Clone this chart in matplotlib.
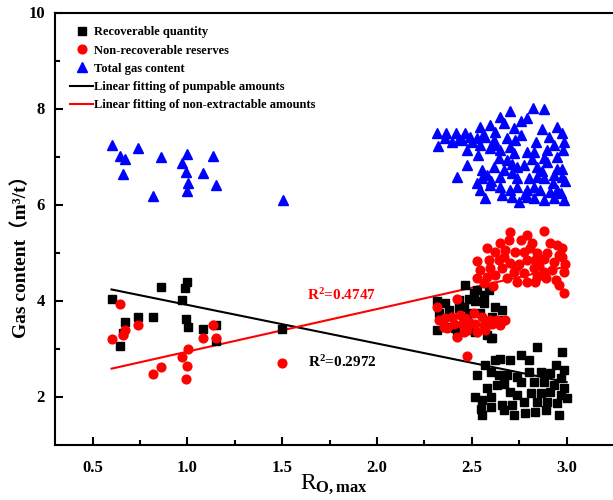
import matplotlib
matplotlib.use("Agg")
import matplotlib.pyplot as plt

plt.rcParams["font.family"] = ["Liberation Serif", "Noto Sans CJK SC"]
plt.rcParams["font.weight"] = "bold"
plt.rcParams["mathtext.fontset"] = "custom"
plt.rcParams["mathtext.rm"] = "Liberation Serif:bold"
plt.rcParams["mathtext.it"] = "Liberation Serif:bold:italic"
plt.rcParams["mathtext.bf"] = "Liberation Serif:bold"

# recoverable quantity (black squares)
rec_x = [0.60, 0.859, 0.997, 0.99, 0.97, 0.738, 0.817, 0.669, 0.993, 1.002, 1.08, 1.15, 1.15,
         0.659, 0.645, 1.498,
         # middle group
         2.466, 2.528, 2.589, 2.317, 2.361, 2.431, 2.484, 2.519, 2.563, 2.625, 2.660, 2.325,
         2.378, 2.431, 2.484, 2.545, 2.607, 2.660, 2.317, 2.361, 2.413, 2.466, 2.519, 2.581,
         2.607, 2.422, 2.501, 2.457, 2.563, 2.510,
         # lower group
         2.599, 2.845, 2.977, 2.528, 2.572, 2.625, 2.651, 2.704, 2.757, 2.801, 2.942, 2.986,
         2.599, 2.643, 2.687, 2.739, 2.801, 2.863, 2.915, 2.968, 2.581, 2.634, 2.669, 2.757,
         2.827, 2.880, 2.933, 2.986, 2.519, 2.555, 2.599, 2.704, 2.739, 2.810, 2.863, 2.915,
         2.968, 3.003, 2.546, 2.599, 2.660, 2.713, 2.775, 2.845, 2.898, 2.951, 2.555, 2.722,
         2.783, 2.836, 2.889, 2.959, 2.669]
rec_y = [4.03, 4.29, 4.39, 4.27, 4.01, 3.66, 3.66, 3.55, 3.61, 3.45, 3.40, 3.16, 3.50,
         3.33, 3.06, 3.40,
         4.32, 4.22, 4.22, 3.98, 3.94, 4.01, 4.04, 3.98, 3.94, 3.87, 3.80, 3.73,
         3.80, 3.84, 3.73, 3.73, 3.66, 3.59, 3.39, 3.45, 3.42, 3.45, 3.35, 3.28,
         3.21, 3.28, 3.39, 3.87, 4.11, 4.15,
         3.21, 3.04, 2.93, 2.45, 2.66, 2.76, 2.79, 2.76, 2.86, 2.76, 2.66, 2.55,
         2.52, 2.45, 2.45, 2.41, 2.52, 2.52, 2.48, 2.38, 2.17, 2.24, 2.27, 2.31,
         2.31, 2.31, 2.24, 2.17, 1.996, 1.93, 1.996, 2.10, 2.03, 2.07, 2.07, 2.10,
         2.03, 1.96, 1.75, 1.79, 1.82, 1.82, 1.89, 1.89, 1.89, 1.86, 1.61, 1.61,
         1.65, 1.68, 1.72, 1.61, 1.72]

# non-recoverable reserves (red circles)
non_x = [0.645, 0.741, 0.671, 0.662, 0.604, 1.137, 1.08, 1.15, 1.005, 0.97, 0.997, 0.859,
         0.819, 0.992, 1.498,
         # upper group
         2.880, 2.792, 2.704, 2.651, 2.695, 2.757, 2.818, 2.915, 2.950, 2.977, 2.581, 2.625,
         2.677, 2.730, 2.774, 2.845, 2.898, 2.977, 2.528, 2.590, 2.642, 2.704, 2.748, 2.792,
         2.836, 2.880, 2.933, 2.994, 2.545, 2.598, 2.660, 2.721, 2.774, 2.827, 2.880, 2.924,
         2.986, 2.528, 2.581, 2.625, 2.686, 2.739, 2.792, 2.836, 2.889, 2.942, 2.959, 2.986,
         2.563, 2.845, 2.612, 2.735, 2.855, 2.962, 2.668, 2.805,
         # lower group
         2.317, 2.422, 2.325, 2.361, 2.396, 2.440, 2.466, 2.510, 2.554, 2.598, 2.633, 2.677,
         2.352, 2.405, 2.449, 2.484, 2.519, 2.563, 2.607, 2.651, 2.369, 2.422, 2.475, 2.528,
         2.572, 2.457, 2.475]
non_y = [3.93, 3.50, 3.39, 3.28, 3.19, 3.50, 3.22, 3.22, 2.98, 2.82, 2.64, 2.62,
         2.47, 2.37, 2.69,
         5.45, 5.36, 5.43, 5.19, 5.26, 5.26, 5.19, 5.20, 5.16, 5.09, 5.09, 5.02,
         5.05, 5.02, 5.02, 4.98, 4.98, 4.91, 4.83, 4.84, 4.84, 4.79, 4.77, 4.84,
         4.84, 4.86, 4.81, 4.77, 4.64, 4.67, 4.67, 4.60, 4.57, 4.67, 4.60, 4.64,
         4.60, 4.46, 4.50, 4.53, 4.46, 4.39, 4.39, 4.39, 4.46, 4.43, 4.32, 4.15,
         4.36, 4.50, 4.30, 4.70, 4.72, 4.95, 4.90, 5.10,
         3.87, 4.04, 3.59, 3.63, 3.66, 3.70, 3.63, 3.73, 3.66, 3.59, 3.59, 3.59,
         3.45, 3.52, 3.52, 3.56, 3.52, 3.49, 3.52, 3.49, 3.42, 3.25, 3.39, 3.35,
         3.39, 3.35, 2.84]

# total gas content (blue triangles)
tot_x = [0.604, 0.741, 0.645, 0.671, 0.662, 0.859, 0.997, 1.137, 0.97, 0.992, 1.08, 1.005,
         0.997, 1.152, 0.819, 1.506,
         2.317, 2.366, 2.419, 2.466, 2.320, 2.396, 2.449, 2.493, 2.542, 2.598, 2.625, 2.651,
         2.704, 2.672, 2.721, 2.757, 2.792, 2.824, 2.880, 2.868, 2.950, 2.977, 2.986, 2.982,
         2.933, 2.898, 2.880, 2.827, 2.792, 2.721, 2.651, 2.598, 2.545, 2.528, 2.572, 2.616,
         2.686, 2.730, 2.475, 2.533, 2.642, 2.686, 2.739, 2.774, 2.845, 2.898, 2.950, 2.977,
         2.475, 2.554, 2.616, 2.581, 2.651, 2.713, 2.739, 2.801, 2.845, 2.880, 2.933, 2.977,
         2.991, 2.422, 2.528, 2.545, 2.598, 2.651, 2.704, 2.739, 2.792, 2.827, 2.862, 2.915,
         2.950, 2.986, 2.572, 2.660, 2.713, 2.748, 2.792, 2.827, 2.880, 2.933, 2.968,
         2.360, 2.430, 2.500, 2.560, 2.620, 2.700, 2.760, 2.840, 2.905, 2.950, 2.710, 2.600,
         2.670, 2.820, 2.930, 2.780, 2.555, 2.870]
tot_y = [7.24, 7.18, 7.02, 6.94, 6.64, 6.98, 7.05, 7.01, 6.86, 6.67, 6.66, 6.45,
         6.28, 6.41, 6.18, 6.09,
         7.48, 7.50, 7.48, 7.50, 7.22, 7.31, 7.34, 7.41, 7.62, 7.66, 7.52, 7.83,
         7.95, 7.69, 7.59, 7.73, 7.80, 8.02, 8.00, 7.57, 7.61, 7.48, 7.31, 7.14,
         7.24, 7.14, 6.96, 7.10, 7.10, 7.07, 7.14, 7.17, 7.24, 7.38, 7.41, 7.34,
         7.38, 7.34, 7.14, 7.03, 6.96, 6.93, 6.79, 6.82, 6.79, 6.89, 6.75, 6.75,
         6.82, 6.72, 6.79, 6.62, 6.57, 6.65, 6.55, 6.55, 6.58, 6.55, 6.62, 6.58,
         6.50, 6.57, 6.44, 6.30, 6.41, 6.37, 6.30, 6.37, 6.30, 6.37, 6.30, 6.27,
         6.30, 6.09, 6.13, 6.20, 6.16, 6.06, 6.16, 6.13, 6.09, 6.13, 6.23,
         7.38, 7.36, 7.30, 7.45, 7.25, 7.20, 7.45, 7.30, 7.40, 7.00, 6.85, 6.50,
         6.72, 6.95, 6.45, 6.22, 6.55, 6.70]

# linear fits (end points)
fit_x = [0.6, 3.0]
fit_rec_y = [4.23, 2.30]
fit_non_y = [2.58, 4.71]

r2_rec = "0.2972"
r2_non = "0.4747"

fig = plt.figure(figsize=(6.13, 5.0), dpi=100)
ax = fig.add_axes([0.0892, 0.111, 0.9124, 0.864])

l_rec_fit, = ax.plot(fit_x, fit_rec_y, color="black", lw=1.5, zorder=2)
l_non_fit, = ax.plot(fit_x, fit_non_y, color="red", lw=1.5, zorder=2)

h_rec, = ax.plot(rec_x, rec_y, ls="none", marker="s", ms=6, color="black", zorder=3)
h_non, = ax.plot(non_x, non_y, ls="none", marker="o", ms=6.3, color="red", zorder=4)
h_tot, = ax.plot(tot_x, tot_y, ls="none", marker="^", ms=7.2, color="blue", zorder=3)

ax.text(1.63, 4.11, "R$^2$=" + r2_non, color="red", fontsize=11, fontweight="bold",
        va="center", ha="left")
ax.text(1.635, 2.72, "R$^2$=" + r2_rec, color="black", fontsize=11, fontweight="bold",
        va="center", ha="left")

ax.set_xlim(0.3, 3.25)
ax.set_ylim(1, 10)
ax.set_xticks([0.5, 1.0, 1.5, 2.0, 2.5, 3.0])
ax.set_xticks([0.75, 1.25, 1.75, 2.25, 2.75], minor=True)
ax.set_yticks([2, 4, 6, 8, 10])
ax.set_yticks([3, 5, 7, 9], minor=True)
ax.tick_params(which="both", direction="in", width=1.5, labelsize=12)
ax.tick_params(which="major", length=6)
ax.tick_params(which="minor", length=3.5)
ax.tick_params(axis="x", pad=11)
ax.tick_params(axis="y", pad=7)
for lab in ax.get_xticklabels() + ax.get_yticklabels():
    lab.set_fontweight("bold")
for sp in ax.spines.values():
    sp.set_linewidth(1.5)
ax.spines["right"].set_visible(False)

ax.set_xlabel("R$_{\\mathrm{O,max}}$", fontsize=17, labelpad=-2)
ax.set_ylabel("Gas content（m³/t）", fontsize=14, fontweight="bold")
ax.yaxis.set_label_coords(-0.044, 0.446)

leg = ax.legend([h_rec, h_non, h_tot, l_rec_fit, l_non_fit],
                ["Recoverable quantity", "Non-recoverable reserves", "Total gas content",
                 "Linear fitting of pumpable amounts", "Linear fitting of non-extractable amounts"],
                loc="upper left", bbox_to_anchor=(0.028, 0.968), frameon=False,
                handlelength=1.8, handletextpad=0.1, labelspacing=0.5,
                borderpad=0, borderaxespad=0, prop={"weight": "bold", "size": 9})

fig.savefig("out.png", dpi=100)
